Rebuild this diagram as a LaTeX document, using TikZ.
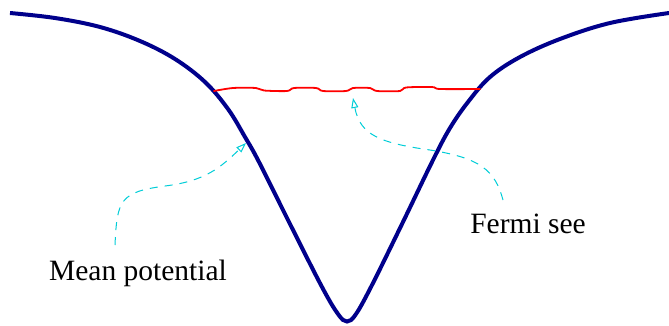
\documentclass[tikz,border=0pt]{standalone}
\usepackage{fontspec}
\setmainfont{Liberation Serif}
\usetikzlibrary{arrows.meta}
\definecolor{potblue}{RGB}{0,0,139}
\definecolor{seacyan}{RGB}{0,205,215}
\tikzset{
  potential/.style={draw=potblue, line width=4pt},
  fermiline/.style={draw=red, line width=1.8pt},
  pointer/.style={draw=seacyan, line width=1pt, dash pattern=on 8pt off 7pt,
    -{Triangle[open, length=10pt, width=7pt, line width=1pt]}},
  textlabel/.style={font=\rmfamily\fontsize{29.5}{34}\selectfont, anchor=base, inner sep=0pt}
}
\begin{document}
\begin{tikzpicture}[x=1pt, y=-1pt]
\useasboundingbox (0,0) rectangle (669,325);
% potential well
\draw[potential] plot[smooth, tension=0.6] coordinates {
  (10,13) (55,18) (100,27) (140,41) (175,59) (205,82) (228,109) (245,137)
  (259,162) (290,224) (322,287) (338,314) (347,321.5)
  (356,314) (372,285) (402,224) (433,160)
  (450,128) (468,102) (490,77) (520,57) (560,39) (610,23) (669,13)};
% Fermi sea surface
\draw[fermiline, line cap=round] plot[smooth, tension=0.5] coordinates {
  (214,91) (233,88) (256,88) (264,90.5) (287,91) (294,88) (316,88) (323,91)
  (346,91) (353,88) (370,88) (377,91) (400,91) (406,87.5) (432,87) (440,89) (480,89)};
% labels
\node[textlabel] (mean) at (138,280) {Mean potential};
\node[textlabel] (fermi) at (528,233.3) {Fermi see};
% pointer ends
\coordinate (m0) at (115,245);
\coordinate (m1) at (165,186);
\coordinate (m2) at (246,143);
\coordinate (f0) at (503,200);
\coordinate (f1) at (430,150);
\coordinate (f2) at (353,98);
\draw[pointer] (m0) .. controls (117,200) and (120,192) .. (m1)
  .. controls (205,181) and (220,168) .. (m2);
\draw[pointer] (f0) .. controls (495,170) and (480,158) .. (f1)
  .. controls (380,143) and (360,135) .. (f2);
\end{tikzpicture}
\end{document}
